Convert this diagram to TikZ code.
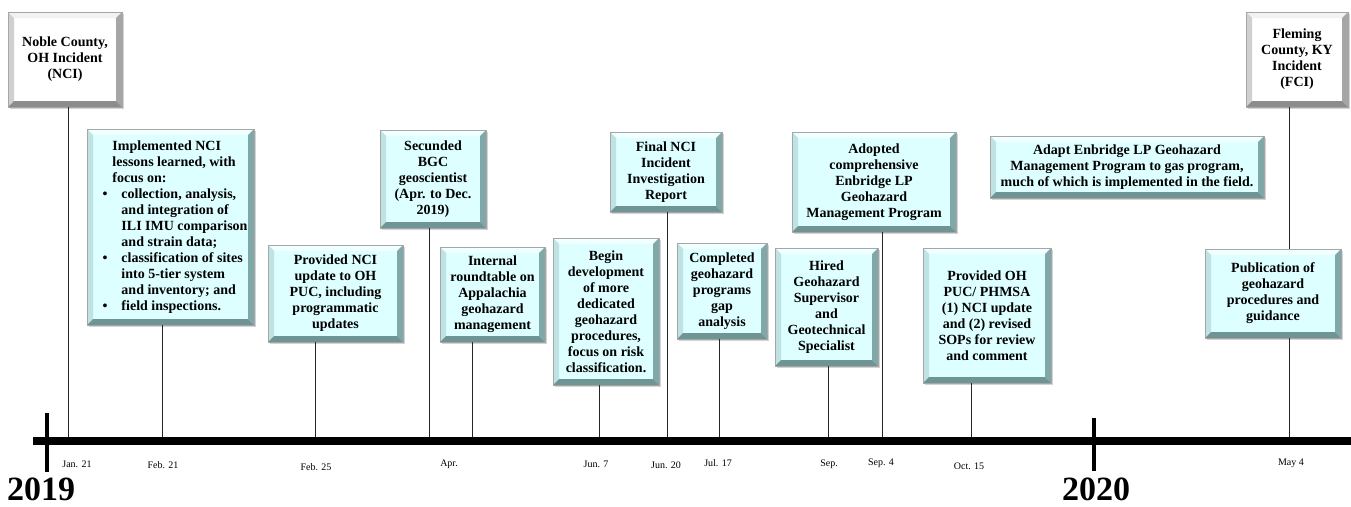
\documentclass[tikz,border=0pt]{standalone}
\usepackage{fontspec}
\setmainfont{Liberation Serif}
\usepackage{tikz}
\usetikzlibrary{shadows}

\definecolor{cyface}{HTML}{DDFFFF}
\definecolor{cytop}{HTML}{F0FFFF}
\definecolor{cyleft}{HTML}{BFE3E3}
\definecolor{cyright}{HTML}{80A8A8}
\definecolor{cybottom}{HTML}{6E9494}
\definecolor{grface}{HTML}{FFFFFF}
\definecolor{grtop}{HTML}{F2F2F2}
\definecolor{grleft}{HTML}{D0D0D0}
\definecolor{grright}{HTML}{A6A6A6}
\definecolor{grbottom}{HTML}{8C8C8C}

\newcommand{\bul}{\llap{\textbullet\hspace{5pt}}\hspace*{9pt}}
\newcommand{\ind}{\hspace*{9pt}}

\begin{document}
\begin{tikzpicture}[
		x=1pt, y=-1pt,
		bevel/.style n args={5}{
			fill=#1, draw=black!35, line width=0.5pt,
			drop shadow={shadow xshift=2pt, shadow yshift=-2pt, opacity=0.35},
			path picture={
				\coordinate (bnw) at (path picture bounding box.north west);
				\coordinate (bne) at (path picture bounding box.north east);
				\coordinate (bsw) at (path picture bounding box.south west);
				\coordinate (bse) at (path picture bounding box.south east);
				\fill[#2] (bnw) -- (bne) -- ([shift={(-6,6)}]bne) -- ([shift={(6,6)}]bnw) -- cycle;
				\fill[#3] (bnw) -- ([shift={(6,6)}]bnw) -- ([shift={(6,-6)}]bsw) -- (bsw) -- cycle;
				\fill[#4] (bne) -- (bse) -- ([shift={(-6,-6)}]bse) -- ([shift={(-6,6)}]bne) -- cycle;
				\fill[#5] (bsw) -- (bse) -- ([shift={(-6,-6)}]bse) -- ([shift={(6,-6)}]bsw) -- cycle;
			}
		},
		evt/.style={inner sep=0pt, align=center, font=\fontsize{14}{16}\selectfont\bfseries},
		cybox/.style={evt, bevel={cyface}{cytop}{cyleft}{cyright}{cybottom}},
		grbox/.style={evt, bevel={grface}{grtop}{grleft}{grright}{grbottom}},
		stem/.style={draw=black!85, line width=1pt},
		datelbl/.style={font=\fontsize{10}{12}\selectfont},
		yearlbl/.style={anchor=base, inner sep=0pt, font=\fontsize{34}{34}\selectfont\bfseries}
	]
  \useasboundingbox (0,0) rectangle (1351,506);

  \coordinate (barL) at (33,441);
  \coordinate (barR) at (1351,441);
  \coordinate (jan21) at (68,441);
  \coordinate (feb21) at (162,441);
  \coordinate (feb25) at (315,441);
  \coordinate (aprA) at (429,441);
  \coordinate (aprB) at (472,441);
  \coordinate (jun7) at (599,441);
  \coordinate (jun20) at (667,441);
  \coordinate (jul17) at (719,441);
  \coordinate (sepA) at (828,441);
  \coordinate (sep4) at (882,441);
  \coordinate (oct15) at (971,441);
  \coordinate (may4) at (1289,441);

  \node (nci) [grbox, minimum width=114, minimum height=95] at (65, 59.5)
    {Noble County,\\OH Incident\\(NCI)};
  \node (impl) [cybox, minimum width=167, minimum height=196] at (170.5, 227)
    {\begin{tabular}{@{\hspace{19pt}}l@{}}
      Implemented NCI\\
      lessons learned, with\\
      focus on:\\
      \bul collection, analysis,\\
      \ind and integration of\\
      \ind ILI IMU comparison\\
      \ind and strain data;\\
      \bul classification of sites\\
      \ind into 5-tier system\\
      \ind and inventory; and\\
      \bul field inspections.
    \end{tabular}};
  \node (puc1) [cybox, minimum width=135, minimum height=97] at (335.5, 293.5)
    {Provided NCI\\update to OH\\PUC, including\\programmatic\\updates};
  \node (bgc) [cybox, minimum width=106, minimum height=98] at (433, 179)
    {Secunded\\BGC\\geoscientist\\(Apr. to Dec.\\2019)};
  \node (round) [cybox, minimum width=105, minimum height=95] at (492.5, 294.5)
    {Internal\\roundtable on\\Appalachia\\geohazard\\management};
  \node (devt) [cybox, minimum width=106, minimum height=147] at (606, 311.5)
    {Begin\\development\\of more\\dedicated\\geohazard\\procedures,\\focus on risk\\classification.};
  \node (report) [cybox, minimum width=112, minimum height=80] at (666, 172)
    {Final NCI\\Incident\\Investigation\\Report};
  \node (gap) [cybox, minimum width=90, minimum height=96] at (722, 291)
    {Completed\\geohazard\\programs\\gap\\analysis};
  \node (hired) [cybox, minimum width=103, minimum height=118] at (826.5, 307)
    {Hired\\Geohazard\\Supervisor\\and\\Geotechnical\\Specialist};
  \node (adopt) [cybox, minimum width=164, minimum height=100] at (874, 182)
    {Adopted\\comprehensive\\Enbridge LP\\Geohazard\\Management Program};
  \node (puc2) [cybox, minimum width=128, minimum height=135] at (987, 315.5)
    {Provided OH\\PUC/ PHMSA\\(1) NCI update\\and (2) revised\\SOPs for review\\and comment};
  \node (adapt) [cybox, minimum width=274, minimum height=62] at (1127, 167)
    {Adapt Enbridge LP Geohazard\\Management Program to gas program,\\much of which is implemented in the field.};
  \node (fci) [grbox, minimum width=102, minimum height=95] at (1297, 59.5)
    {Fleming\\County, KY\\Incident\\(FCI)};
  \node (publ) [cybox, minimum width=136, minimum height=89] at (1273, 293.5)
    {Publication of\\geohazard\\procedures and\\guidance};

  \draw[stem] (jan21 |- nci.south) -- (jan21);
  \draw[stem] (feb21 |- impl.south) -- (feb21);
  \draw[stem] (feb25 |- puc1.south) -- (feb25);
  \draw[stem] (aprA |- bgc.south) -- (aprA);
  \draw[stem] (aprB |- round.south) -- (aprB);
  \draw[stem] (jun7 |- devt.south) -- (jun7);
  \draw[stem] (jun20 |- report.south) -- (jun20);
  \draw[stem] (jul17 |- gap.south) -- (jul17);
  \draw[stem] (sepA |- hired.south) -- (sepA);
  \draw[stem] (sep4 |- adopt.south) -- (sep4);
  \draw[stem] (oct15 |- puc2.south) -- (oct15);
  \draw[stem] (may4 |- fci.south) -- (may4 |- publ.north);
  \draw[stem] (may4 |- publ.south) -- (may4);

  \draw[line width=8pt] (barL) -- (barR);
  \draw[line width=3.5pt] (47,413) -- (47,472);
  \draw[line width=3.5pt] (1094,418) -- (1094,471);

  \node (l-jan21) [datelbl] at (77,464) {Jan. 21};
  \node (l-feb21) [datelbl] at (163,465) {Feb. 21};
  \node (l-feb25) [datelbl] at (316,467) {Feb. 25};
  \node (l-apr) [datelbl] at (449,464) {Apr.};
  \node (l-jun7) [datelbl] at (596,464) {Jun. 7};
  \node (l-jun20) [datelbl] at (666,465) {Jun. 20};
  \node (l-jul17) [datelbl] at (718,463) {Jul. 17};
  \node (l-sep) [datelbl] at (829,464) {Sep.};
  \node (l-sep4) [datelbl] at (881,463) {Sep. 4};
  \node (l-oct15) [datelbl] at (969,466) {Oct. 15};
  \node (l-may4) [datelbl] at (1291,463) {May 4};

  \node (y2019) [yearlbl] at (41,500) {2019};
  \node (y2020) [yearlbl] at (1096,500) {2020};
\end{tikzpicture}
\end{document}
